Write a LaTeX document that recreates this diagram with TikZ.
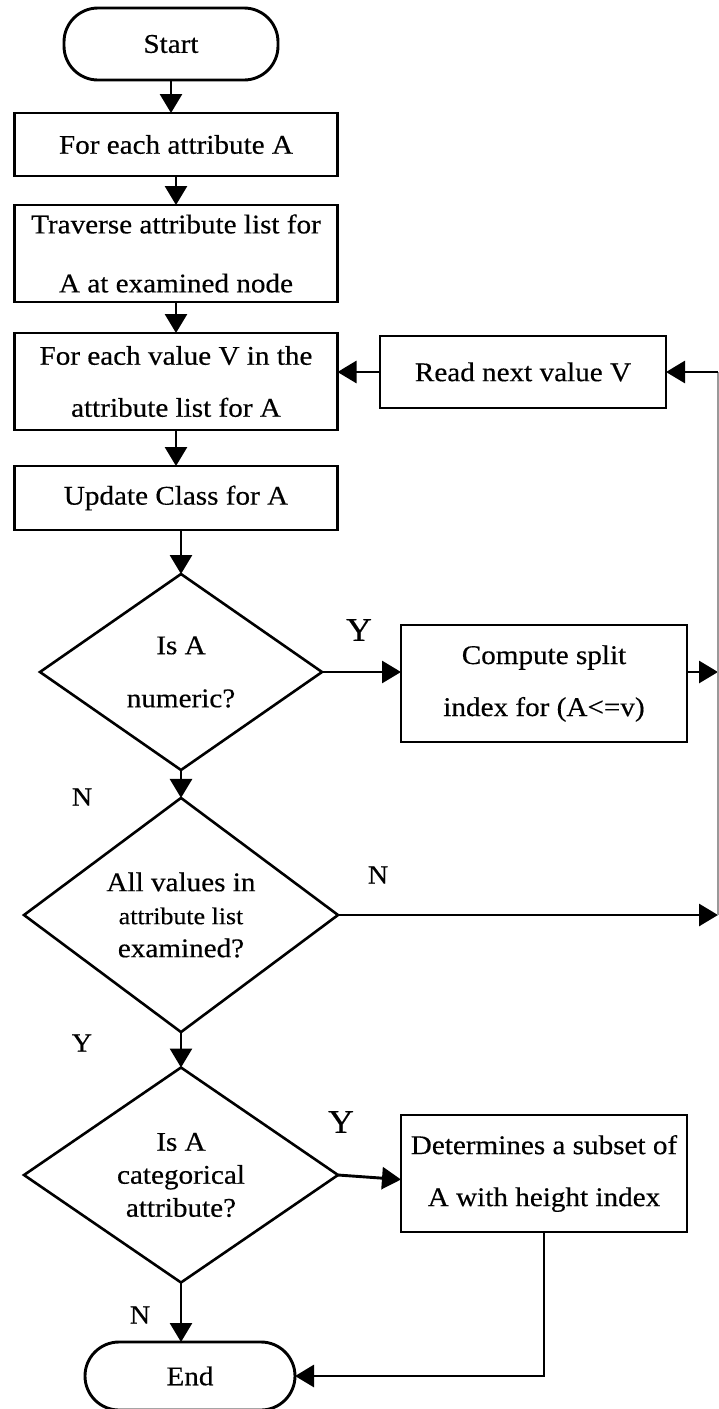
\documentclass[tikz,border=0pt]{standalone}
\usepackage{fontspec}
\setmainfont{Liberation Serif}[FakeStretch=1.08, FakeBold=0.4]
\usetikzlibrary{arrows.meta,shapes.geometric}
\begin{document}
\begin{tikzpicture}[x=1pt,y=-1pt,
  every node/.style={inner sep=0pt, outer sep=0pt},
  box/.style={draw, line width=2.9pt, rectangle, align=center, font=\fontsize{27}{52}\selectfont},
  term/.style={draw, line width=2.9pt, rectangle, rounded corners=34pt, align=center, font=\fontsize{27}{52}\selectfont},
  dec/.style={draw, line width=2.6pt, diamond, align=center, font=\fontsize{27}{33}\selectfont},
  arr/.style={line width=2.9pt, -{Triangle[length=19pt,width=22pt]}},
  conn/.style={line width=2.9pt},
  lab/.style={font=\fontsize{26}{30}\selectfont},
  biglab/.style={font=\fontsize{33}{36}\selectfont}]
\useasboundingbox (0,0) rectangle (718,1409);
\fill[white] (0,0) rectangle (718,1409);

% nodes
\node[term, minimum width=214pt, minimum height=72pt] (start) at (171,44) {\raisebox{-5pt}{Start}};
\node[box, minimum width=323pt, minimum height=63pt] (b1) at (176,144.5) {For each attribute A};
\node[box, minimum width=323pt, minimum height=97pt, font=\fontsize{27}{59}\selectfont] (b2) at (176,253.5) {Traverse attribute list for\\A at examined node};
\node[box, minimum width=323pt, minimum height=97pt] (b3) at (176,381.5) {For each value V in the\\attribute list for A};
\node[box, minimum width=286pt, minimum height=72pt] (read) at (523,372) {Read next value V};
\node[box, minimum width=323pt, minimum height=64pt] (b4) at (176,498) {Update Class for A};
\node[dec, minimum width=282pt, minimum height=196pt] (d1) at (181,672) {Is A\\[20pt]numeric?};
\node[box, minimum width=286pt, minimum height=117pt] (comp) at (544,683.5) {Compute split\\index for (A<=v)};
\node[dec, minimum width=314pt, minimum height=216pt] (d2) at (181,915) {All values in\\{\fontsize{24}{33}\selectfont attribute list}\\examined?};
\node[dec, minimum width=314pt, minimum height=215pt] (d3) at (181,1175) {Is A\\categorical\\attribute?};
\node[box, minimum width=286pt, minimum height=117pt] (det) at (544,1173.5) {Determines a subset of\\A with height index};
\node[term, minimum width=210pt, minimum height=68pt] (end) at (190,1376) {End};

% labels
\node[biglab] (ly1) at (359,630) {Y};
\node[lab] (ln1) at (82,797) {N};
\node[lab] (ln2) at (378,875) {N};
\node[lab] (ly2) at (82,1043) {Y};
\node[biglab] (ly3) at (341,1122) {Y};
\node[lab] (ln3) at (140,1315) {N};

% loop-back column at the right edge
\coordinate (r1) at (718,372);
\coordinate (r2) at (718,672);
\coordinate (r3) at (718,915);
\coordinate (c1) at (718,372);
\coordinate (c3) at (718,915);

% connectors
\draw[arr] (start.south) -- (start.south |- b1.north);
\draw[arr] (b1.south) -- (b2.north);
\draw[arr] (b2.south) -- (b3.north);
\draw[arr] (b3.south) -- (b4.north);
\draw[arr] (b4.south -| d1.north) -- (d1.north);
\draw[arr] (d1.east) -- (d1.east -| comp.west);
\draw[arr] (comp.east |- d1.east) -- (r2);
\draw[arr] (d1.south) -- (d2.north);
\draw[arr] (d2.east) -- (r3);
\draw[conn, black!40] (c3) -- (c1);
\draw[arr] (r1) -- (read.east);
\draw[arr] (read.west) -- (read.west -| b3.east);
\draw[arr] (d2.south) -- (d3.north);
\draw[arr] (d3.east) -- ([yshift=-6pt]det.west);
\draw[arr] (d3.south) -- (d3.south |- end.north);
\draw[arr] (det.south) |- (end.east);
\end{tikzpicture}
\end{document}
